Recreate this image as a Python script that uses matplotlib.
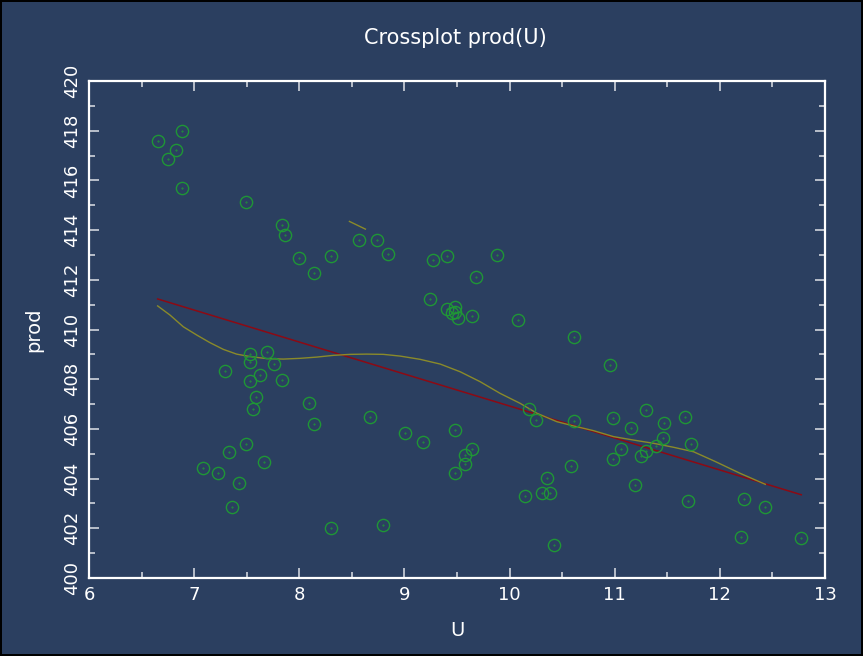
import matplotlib
matplotlib.use("Agg")
import matplotlib.pyplot as plt
import numpy as np

# puntos del crossplot (U, prod)
u = [6.656, 6.888, 6.828, 6.755, 6.888, 7.494, 7.836, 7.868, 7.995, 8.300,
     8.138, 8.572, 8.740, 8.842, 9.276, 9.406, 9.244, 9.403, 9.480, 9.450,
     9.480, 9.508, 9.879, 9.680, 9.647, 10.082, 10.617, 10.957, 7.532, 7.532,
     7.694, 7.291, 7.763, 7.630, 7.532, 7.833, 7.592, 7.560, 8.096, 8.138,
     8.670, 9.004, 9.175, 9.479, 9.479, 7.490, 7.332, 7.662, 7.088, 7.230,
     7.430, 7.360, 8.300, 8.800, 10.183, 10.253, 10.617, 10.986, 11.293, 11.159,
     11.464, 11.664, 11.461, 11.725, 11.395, 11.293, 11.055, 11.254, 10.988, 9.578,
     9.647, 9.578, 10.586, 10.355, 10.151, 10.313, 10.386, 11.191, 11.693, 12.229,
     12.429, 10.418, 12.200, 12.772]
prod = [417.57, 417.98, 417.24, 416.85, 415.68, 415.14, 414.20, 413.82, 412.89, 412.96,
        412.26, 413.59, 413.59, 413.04, 412.81, 412.94, 411.24, 410.81, 410.90, 410.65,
        410.69, 410.45, 412.98, 412.11, 410.54, 410.39, 409.69, 408.57, 409.00, 408.70,
        409.08, 408.34, 408.61, 408.18, 407.92, 407.96, 407.27, 406.79, 407.05, 406.20,
        406.47, 405.83, 405.46, 405.97, 404.24, 405.38, 405.07, 404.66, 404.44, 404.24,
        403.84, 402.86, 402.00, 402.12, 406.80, 406.36, 406.33, 406.44, 406.75, 406.05,
        406.24, 406.48, 405.65, 405.39, 405.31, 405.12, 405.18, 404.90, 404.80, 404.95,
        405.18, 404.59, 404.51, 404.04, 403.31, 403.41, 403.41, 403.75, 403.11, 403.18,
        402.85, 401.34, 401.65, 401.61]

# recta de regresion (extremos)
fit_u = [6.653, 12.774]
fit_prod = [411.23, 403.35]

# curva suavizada
smooth_u = [6.653, 6.771, 6.897, 7.024, 7.151, 7.278, 7.404, 7.532, 7.69, 7.849,
            8.008, 8.166, 8.325, 8.483, 8.642, 8.80, 8.96, 9.149, 9.34, 9.53,
            9.72, 9.91, 10.10, 10.26, 10.45, 10.608, 10.798, 10.988, 11.18, 11.37,
            11.56, 11.75, 11.95, 12.194, 12.432]
smooth_prod = [410.95, 410.58, 410.11, 409.78, 409.47, 409.20, 409.01, 408.91, 408.83, 408.81,
               408.84, 408.89, 408.96, 409.00, 409.01, 409.00, 408.93, 408.80, 408.61, 408.30,
               407.90, 407.43, 407.03, 406.63, 406.29, 406.12, 405.93, 405.69, 405.55, 405.42,
               405.26, 405.08, 404.70, 404.21, 403.77]
# trocito suelto de la curva
stray_u = [8.477, 8.629]
stray_prod = [414.35, 414.04]

bg = '#2b3f60'
fg = 'white'
tickc = '#d0d4dc'

plt.rcParams['font.family'] = ['DejaVu Sans']

fig = plt.figure(figsize=(8.63, 6.56), dpi=100, facecolor=bg, edgecolor='black', linewidth=1.5)
ax = fig.add_axes([0.1031, 0.1189, 0.8529, 0.7576], facecolor=bg)

ax.plot(fit_u, fit_prod, color='#8c0a14', lw=1.1, zorder=2)
ax.plot(smooth_u, smooth_prod, color='#8a8a2a', lw=1.0, zorder=3)
ax.plot(stray_u, stray_prod, color='#8a8a2a', lw=1.0, zorder=3)
ax.plot(u, prod, 'o', mfc='none', mec='#1f9636', ms=8.8, mew=1.0, zorder=4)
ax.plot(u, prod, '.', color='#1f9636', ms=1, zorder=4)

ax.set_xlim(6, 13)
ax.set_ylim(400, 420)
ax.set_xticks(np.arange(6, 14, 1))
ax.set_xticks(np.arange(6.5, 13, 1), minor=True)
ax.set_yticks(np.arange(400, 422, 2))
ax.set_yticks(np.arange(401, 420, 2), minor=True)

for s in ax.spines.values():
    s.set_color(fg)
    s.set_linewidth(1.6)
ax.tick_params(which='both', direction='in', top=True, right=True, colors=tickc,
               labelcolor=fg, labelsize=13, width=1.2)
ax.tick_params(which='major', length=7, pad=6)
ax.tick_params(which='minor', length=4.5)
for lab in ax.get_yticklabels():
    lab.set_rotation(90)
    lab.set_va('center')

ax.set_xlabel('U', color=fg, fontsize=14, labelpad=12)
ax.set_ylabel('prod', color=fg, fontsize=14, labelpad=14)
fig.text(0.528, 0.942, 'Crossplot prod(U)', color=fg, fontsize=15, ha='center', va='center')

fig.savefig('out.png', dpi=100, facecolor=bg, edgecolor='black')
